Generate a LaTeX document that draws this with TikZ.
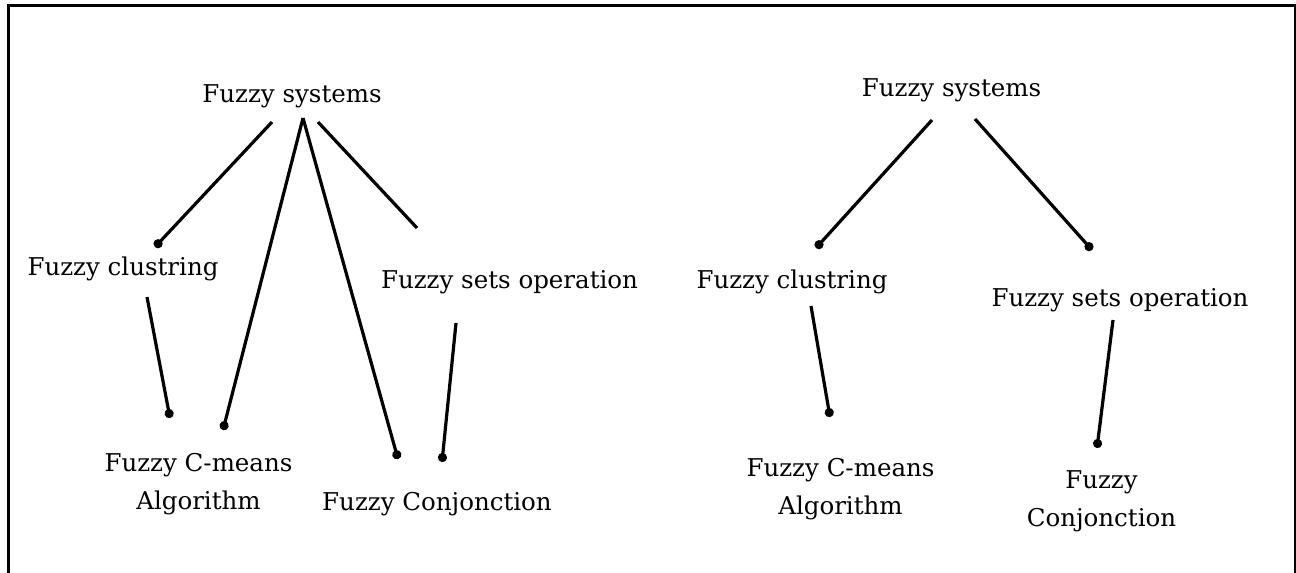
\documentclass[tikz,border=0pt]{standalone}
\usepackage{fontspec}
\setmainfont{DejaVu Serif}
\usetikzlibrary{arrows.meta}

\begin{document}
\begin{tikzpicture}[x=1pt,y=-1pt,
    conn/.style={line width=3.2pt,-{Circle[length=9pt]}}]
\useasboundingbox (0,0) rectangle (1296,573);
\draw [line width=3pt] (8,573) -- (8,5) -- (1295,5) -- (1295,573);
\begin{scope}[every node/.style={anchor=base,inner sep=0pt,align=center,font=\fontsize{24.5}{38.5}\selectfont}]
    % left tree
    \node (a) at (292,102) {Fuzzy systems};
    \node (b) at (123,275) {Fuzzy clustring};
    \node (c) at (509.5,288) {Fuzzy sets operation};
    \node (d) at (198.5,509.5) {Fuzzy C-means\\Algorithm};
    \node (e) at (437,510) {Fuzzy Conjonction};
    % right tree
    \node (p) at (951.5,96) {Fuzzy systems};
    \node (q) at (792,288) {Fuzzy clustring};
    \node (r) at (1120,306) {Fuzzy sets operation};
    \node (s) at (840.5,514.5) {Fuzzy C-means\\Algorithm};
    \node (t) at (1101.5,526.5) {Fuzzy\\Conjonction};
        \path [conn] ([shift={(-20,20)}]a.base) edge ([shift={(32,-28)}]b.base);
        \path [conn] ([shift={(11,16)}]a.base) edge ([shift={(24.5,-79.5)}]d.base);
        \path [conn] ([shift={(11,16)}]a.base) edge ([shift={(-39,-51)}]e.base);
        \path [conn,-] ([shift={(26,20)}]a.base) edge ([shift={(-92.5,-60)}]c.base);
        \path [conn] ([shift={(24,22)}]b.base) edge ([shift={(-28.5,-91.5)}]d.base);
        \path [conn] ([shift={(-53.5,35)}]c.base) edge ([shift={(5,-48)}]e.base);

        \path [conn] ([shift={(-19.5,24)}]p.base) edge ([shift={(24,-40)}]q.base);
        \path [conn] ([shift={(23.5,23)}]p.base) edge ([shift={(-28,-56)}]r.base);
        \path [conn] ([shift={(19,18)}]q.base) edge ([shift={(-10.5,-97.5)}]s.base);
        \path [conn] ([shift={(-7,14)}]r.base) edge ([shift={(-4.5,-78.5)}]t.base);
\end{scope}

\end{tikzpicture}
\end{document}
